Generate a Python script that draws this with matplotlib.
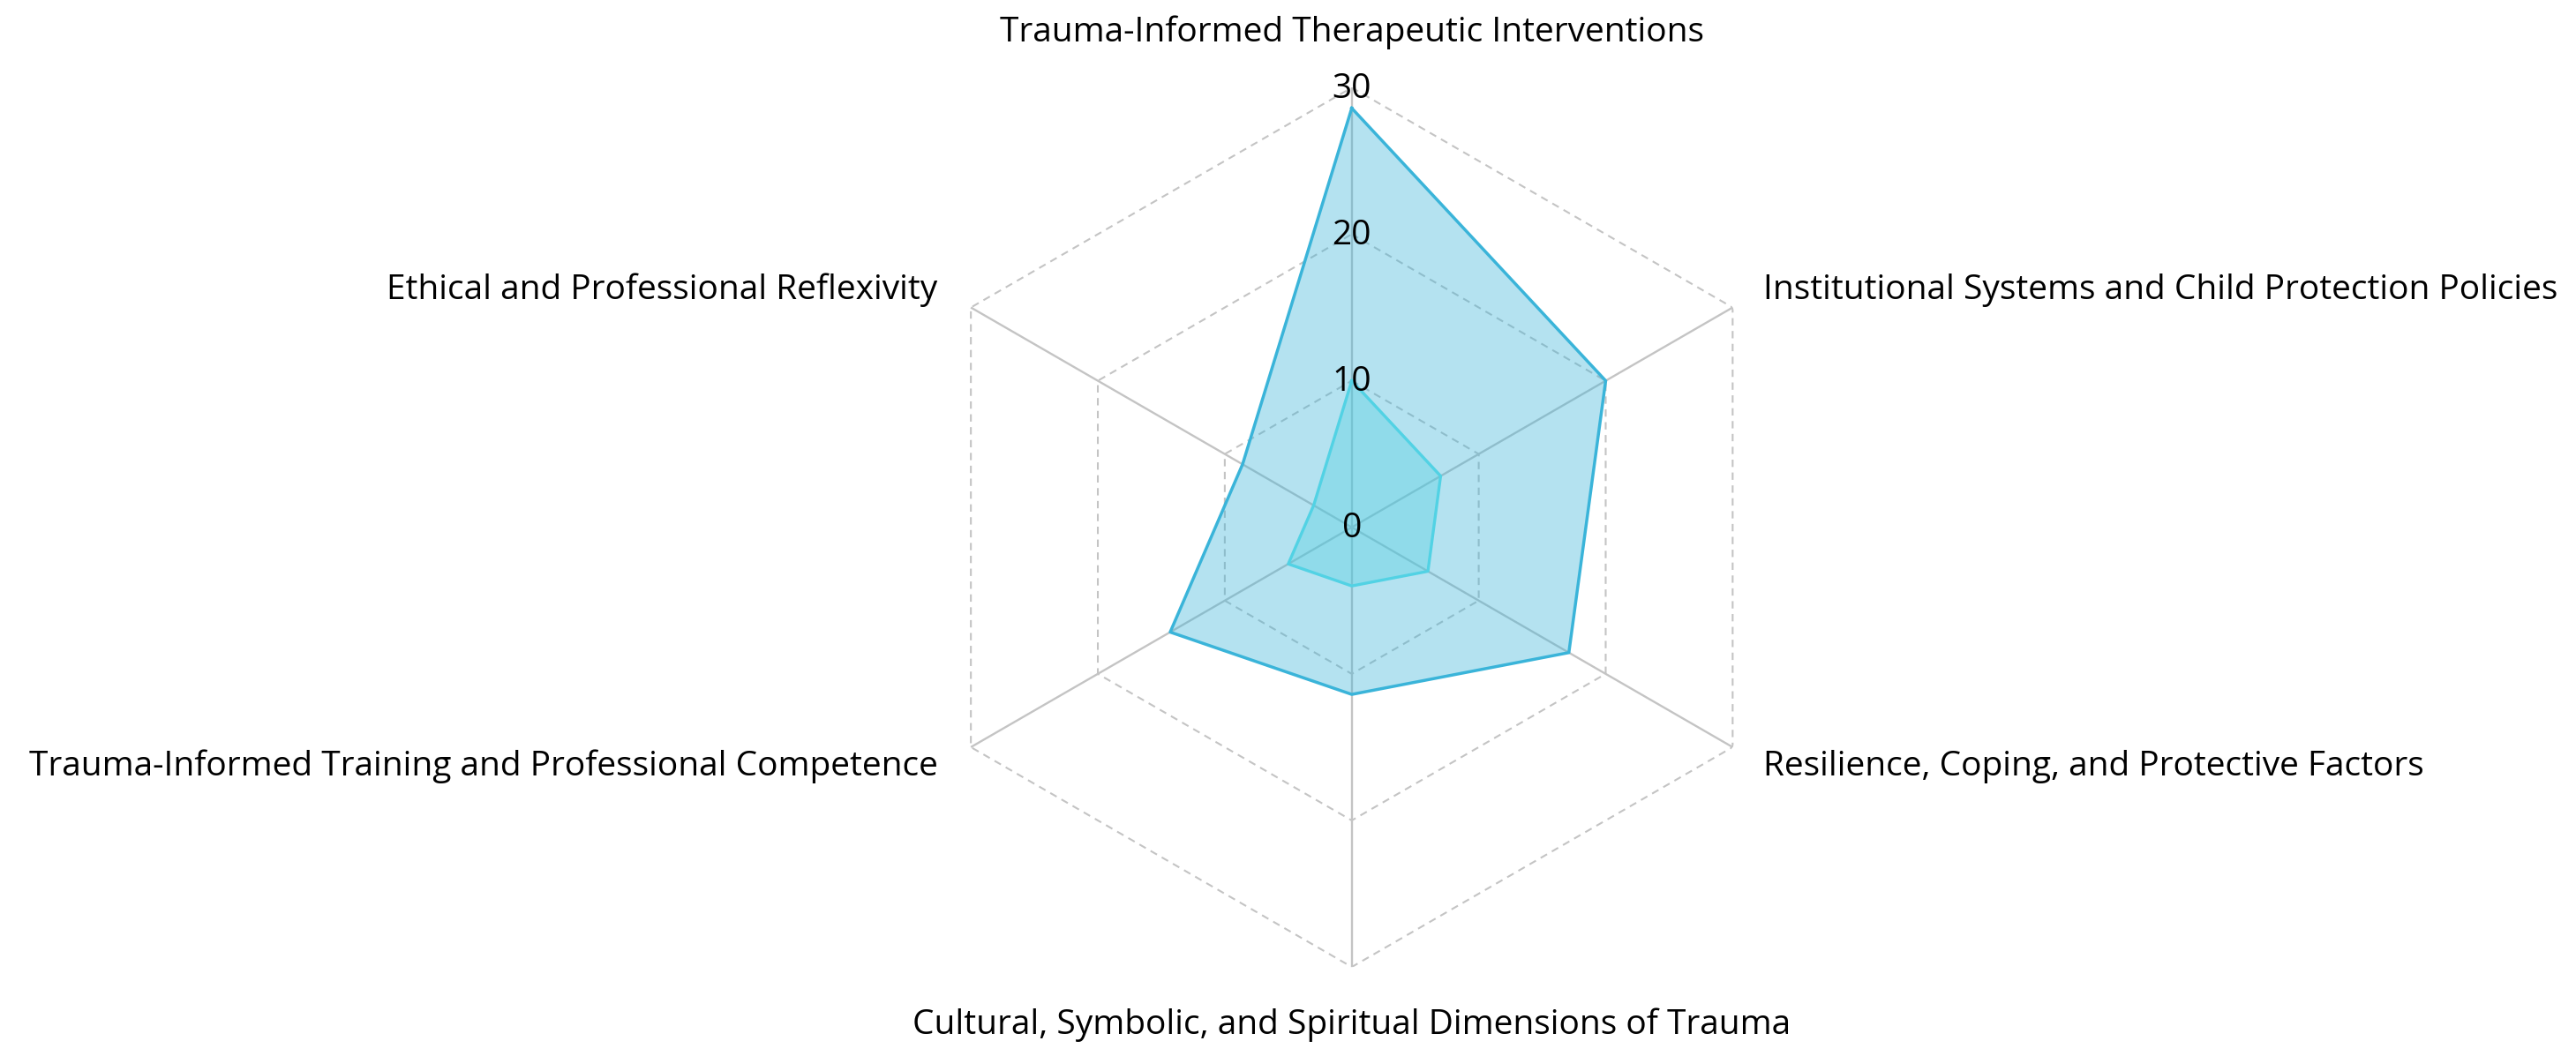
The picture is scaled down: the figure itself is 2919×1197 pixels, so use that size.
import numpy as np
import matplotlib
matplotlib.use('Agg')
from matplotlib import pyplot as plt

categories = [
    'Trauma-Informed Therapeutic Interventions',
    'Institutional Systems and Child Protection Policies',
    'Resilience, Coping, and Protective Factors',
    'Cultural, Symbolic, and Spiritual Dimensions of Trauma',
    'Trauma-Informed Training and Professional Competence',
    'Ethical and Professional Reflexivity',
]
share_pct = [28.6, 20.0, 17.1, 11.4, 14.3, 8.6]
study_count = [10, 7, 6, 4, 5, 3]
ring_ticks = [0, 10, 20, 30]

plt.rcParams['font.family'] = ['Open Sans', 'DejaVu Sans']

fig = plt.figure(figsize=(29.19, 11.97), dpi=100)
ax = fig.add_axes([0.354, 0.0843, 0.3415, 0.8327], projection='polar')
ax.set_theta_zero_location('N')
ax.set_theta_direction(-1)
ax.set_ylim(0, ring_ticks[-1])
ax.grid(False)
ax.set_xticks([])
ax.set_yticks([])
ax.spines['polar'].set_visible(False)
ax.patch.set_alpha(0)

theta = np.linspace(0, 2 * np.pi, len(categories), endpoint=False)
closed = np.append(theta, theta[0])

# hexagon rings and spokes
for r in ring_ticks[1:]:
    ax.plot(closed, [r] * len(closed), color='#c4c4c4', lw=1.5,
            ls=(0, (4, 3)), zorder=1)
for t in theta:
    ax.plot([t, t], [0, ring_ticks[-1]], color='#c4c4c4', lw=1.7, zorder=1)

# series
vals = share_pct + share_pct[:1]
ax.fill(closed, vals, color='#3ab4d9', alpha=0.38, lw=0, zorder=2)
ax.plot(closed, vals, color='#3ab4d9', lw=2.5, zorder=3)

vals = study_count + study_count[:1]
ax.fill(closed, vals, color='#4dd0e1', alpha=0.35, lw=0, zorder=2)
ax.plot(closed, vals, color='#52d2e4', lw=2.4, zorder=3)

# radial tick labels
for r in ring_ticks:
    ax.annotate(str(r), xy=(0, r), xytext=(0, -1), textcoords='offset points',
                ha='center', va='center', fontsize=28, color='#000000',
                zorder=5)

# category labels
offsets = [(0, 45, 'center'), (25, 14, 'left'), (25, -16, 'left'),
           (0, -47, 'center'), (-27, -16, 'right'), (-27, 14, 'right')]
for t, name, (dx, dy, ha) in zip(theta, categories, offsets):
    ax.annotate(name, xy=(t, ring_ticks[-1]), xytext=(dx, dy),
                textcoords='offset points', ha=ha, va='center',
                fontsize=28, color='#000000', annotation_clip=False)

plt.savefig('out.png', dpi=100)
